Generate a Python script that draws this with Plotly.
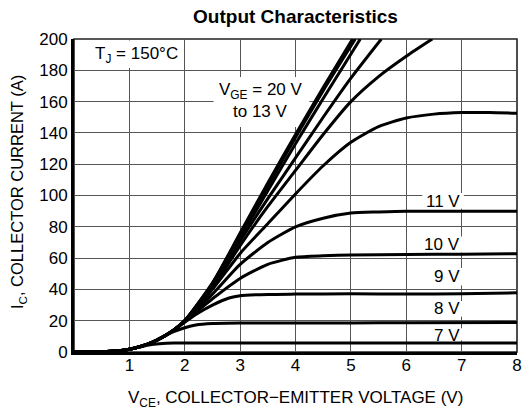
import plotly.graph_objects as go

# Collector-emitter voltage samples (V) and collector current (A) for each gate voltage
v_7 = [0, 0.5, 0.8, 1.0, 1.2, 1.4, 1.6, 1.8, 2.5, 4.0, 6.0, 8.0]
i_7 = [0, 0.2, 0.8, 1.8, 3.3, 4.8, 5.5, 5.7, 5.8, 5.8, 5.8, 5.8]

v_8 = [0, 0.5, 0.8, 1.0, 1.2, 1.4, 1.6, 1.8, 2.0, 2.2, 2.5, 3.0, 4.0, 5.0, 6.0, 8.0]
i_8 = [0, 0.2, 0.8, 1.8, 3.5, 6.0, 9.5, 13.0, 15.5, 17.3, 18.2, 18.5, 18.6, 18.6, 18.7, 18.8]

v_9 = [0, 0.5, 0.8, 1.0, 1.2, 1.4, 1.6, 1.8, 2.0, 2.2, 2.5, 2.8, 3.0, 3.5, 4.0, 5.0, 6.0, 7.0, 8.0]
i_9 = [0, 0.2, 0.8, 1.8, 3.5, 6.0, 9.5, 14.0, 19.0, 24.0, 30.0, 34.5, 36.0, 36.8, 37.0, 37.2, 37.0, 37.2, 37.8]

v_10 = [0, 0.5, 0.8, 1.0, 1.2, 1.4, 1.6, 1.8, 2.0, 2.5, 3.0, 3.5, 4.0, 4.5, 5.0, 6.0, 7.0, 8.0]
i_10 = [0, 0.2, 0.8, 1.8, 3.5, 6.0, 9.5, 14.0, 19.5, 34.0, 47.0, 56.0, 60.5, 61.5, 62.0, 62.3, 62.5, 62.8]

v_11 = [0, 0.5, 0.8, 1.0, 1.2, 1.4, 1.6, 1.8, 2.0, 2.5, 3.0, 3.5, 4.0, 4.5, 5.0, 5.5, 6.0, 8.0]
i_11 = [0, 0.2, 0.8, 1.8, 3.5, 6.0, 9.5, 14.0, 20.0, 37.0, 56.0, 70.0, 80.0, 85.5, 88.8, 89.5, 90.0, 90.0]

v_12 = [0, 0.5, 0.8, 1.0, 1.2, 1.4, 1.6, 1.8, 2.0, 2.5, 3.0, 3.5, 4.0, 4.5, 5.0, 5.5, 6.0, 6.5, 7.0, 7.5, 8.0]
i_12 = [0, 0.2, 0.8, 1.8, 3.5, 6.0, 9.5, 14.0, 20.0, 40.0, 63.0, 82.0, 101.0, 119.0, 134.0, 144.0, 149.5, 152.0, 153.0, 153.0, 152.5]

v_13 = [0, 0.5, 0.8, 1.0, 1.2, 1.4, 1.6, 1.8, 2.0, 2.5, 3.0, 3.5, 4.0, 4.5, 5.0, 5.5, 6.0, 6.47]
i_13 = [0, 0.2, 0.8, 1.8, 3.5, 6.0, 9.5, 14.0, 20.0, 41.0, 68.0, 93.0, 116.0, 139.0, 160.0, 176.0, 189.0, 200.0]

v_14 = [0, 0.5, 0.8, 1.0, 1.2, 1.4, 1.6, 1.8, 2.0, 2.5, 3.0, 3.5, 4.0, 4.5, 5.0, 5.55]
i_14 = [0, 0.2, 0.8, 1.8, 3.5, 6.0, 9.5, 14.0, 20.0, 42.0, 71.0, 98.0, 124.0, 150.0, 175.0, 200.0]

v_15 = [0, 0.5, 0.8, 1.0, 1.2, 1.4, 1.6, 1.8, 2.0, 2.5, 3.0, 3.5, 4.0, 4.5, 5.17]
i_15 = [0, 0.2, 0.8, 1.8, 3.5, 6.0, 9.5, 14.0, 20.0, 43.0, 73.0, 103.0, 133.0, 162.0, 200.0]

v_17 = [0, 0.5, 0.8, 1.0, 1.2, 1.4, 1.6, 1.8, 2.0, 2.5, 3.0, 3.5, 4.0, 4.5, 5.08]
i_17 = [0, 0.2, 0.8, 1.8, 3.5, 6.0, 9.5, 14.0, 20.0, 44.0, 75.0, 106.0, 137.0, 167.0, 200.0]

v_20 = [0, 0.5, 0.8, 1.0, 1.2, 1.4, 1.6, 1.8, 2.0, 2.5, 3.0, 3.5, 4.0, 4.5, 5.03]
i_20 = [0, 0.2, 0.8, 1.8, 3.5, 6.0, 9.5, 14.0, 20.0, 44.0, 76.0, 108.0, 139.0, 169.0, 200.0]

curves = [
    ("7 V", v_7, i_7), ("8 V", v_8, i_8), ("9 V", v_9, i_9),
    ("10 V", v_10, i_10), ("11 V", v_11, i_11), ("12 V", v_12, i_12),
    ("13 V", v_13, i_13), ("14 V", v_14, i_14), ("15 V", v_15, i_15),
    ("17 V", v_17, i_17), ("20 V", v_20, i_20),
]

x_ticks = [1, 2, 3, 4, 5, 6, 7, 8]
y_ticks = [0, 20, 40, 60, 80, 100, 120, 140, 160, 180, 200]

# Curve labels: text, y position (A); right-aligned at 7 V
curve_labels = [("11 V", 96.0), ("10 V", 68.4), ("9 V", 48.1), ("8 V", 27.8), ("7 V", 10.5)]

FONT = "Liberation Sans, Arial, Helvetica, sans-serif"

fig = go.Figure()
for name, v, i in curves:
    fig.add_trace(go.Scatter(
        x=v, y=i, mode="lines", name=name,
        line=dict(color="black", width=3, shape="spline", smoothing=0.6),
        showlegend=False, hoverinfo="skip",
    ))

# White patches behind the text labels (hide the grid, stay under the curves)
patches = [
    (0.11, 1.93, 181.5, 199.0),
    (2.52, 4.25, 143.8, 175.7),
    (6.29, 7.04, 91.6, 101.6),
    (6.29, 7.04, 63.6, 73.8),
    (6.50, 7.04, 42.5, 53.7),
    (6.50, 7.04, 22.6, 32.6),
    (6.50, 7.04, 7.4, 15.2),
]
for x0, x1, y0, y1 in patches:
    fig.add_shape(type="rect", xref="x", yref="y", x0=x0, x1=x1, y0=y0, y1=y1,
                  fillcolor="white", line=dict(width=0), layer="between")

# Frame on the top and right
fig.add_shape(type="rect", xref="paper", yref="paper", x0=0, x1=1, y0=0, y1=1,
              line=dict(color="#222222", width=1.6), layer="between")

annotations = [
    dict(x=0.34, y=190, xref="x", yref="y", xanchor="left", yanchor="middle",
         text="T<sub>J</sub> = 150°C", showarrow=False, font=dict(size=17)),
    dict(x=3.37, y=167, xref="x", yref="y", xanchor="center", yanchor="middle",
         text="V<sub>GE</sub> = 20 V", showarrow=False, font=dict(size=17)),
    dict(x=3.37, y=153.5, xref="x", yref="y", xanchor="center", yanchor="middle",
         text="to 13 V", showarrow=False, font=dict(size=17)),
    dict(x=0.5, y=-0.150, xref="paper", yref="paper", xanchor="center", yanchor="middle",
         text="V<sub>CE</sub>, COLLECTOR\u2212EMITTER VOLTAGE (V)", showarrow=False,
         font=dict(size=17)),
    dict(x=-0.125, y=0.51, xref="paper", yref="paper", xanchor="center", yanchor="middle",
         text="I<sub>C</sub>, COLLECTOR CURRENT (A)", showarrow=False, textangle=-90,
         font=dict(size=16.5)),
]
for txt, yv in curve_labels:
    annotations.append(dict(x=7.0, y=yv, xref="x", yref="y", xanchor="right", yanchor="middle",
                            text=txt, showarrow=False, font=dict(size=17)))

fig.update_layout(
    width=529, height=412,
    margin=dict(l=74, r=7, t=39, b=60),
    paper_bgcolor="white", plot_bgcolor="white",
    font=dict(family=FONT, color="black", size=17),
    title=dict(text="<b>Output Characteristics</b>", x=0.5, xref="paper", xanchor="center",
               y=1 - 16 / 412, yref="container", yanchor="middle",
               font=dict(size=19, family=FONT, color="black")),
    annotations=annotations,
)
fig.update_xaxes(
    range=[0, 8], tickvals=x_ticks, ticktext=[str(t) for t in x_ticks],
    showgrid=True, gridcolor="#555555", gridwidth=1.4,
    showline=True, linecolor="black", linewidth=3, zeroline=False,
    ticks="", tickfont=dict(size=17), ticklabelstandoff=-4,
    fixedrange=True,
)
fig.update_yaxes(
    range=[0, 200], tickvals=y_ticks, ticktext=[str(t) for t in y_ticks],
    showgrid=True, gridcolor="#555555", gridwidth=1.4,
    showline=True, linecolor="black", linewidth=3, zeroline=False,
    ticks="", tickfont=dict(size=17),
    fixedrange=True,
)

fig.write_html("out.html")
